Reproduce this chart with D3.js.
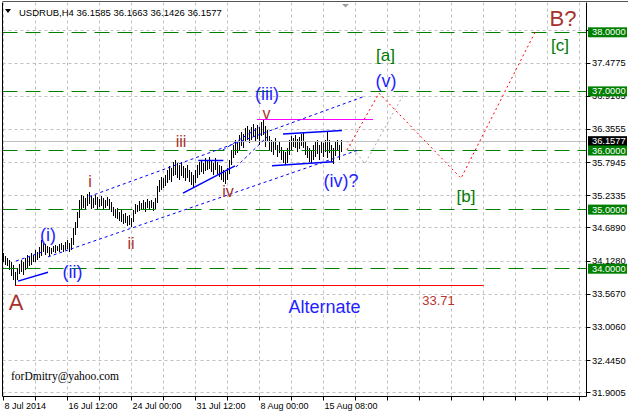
<!DOCTYPE html>
<html><head><meta charset="utf-8">
<script src="https://cdn.jsdelivr.net/npm/d3@7"></script>
<style>body{margin:0;background:#fff}svg{display:block}</style>
</head><body>
<svg id="c" width="628" height="411"></svg>
<script>
// ---------- DATA ----------
const symbolTitle = "USDRUB,H4  36.1585 36.1663 36.1426 36.1577";
const highs = [
34.27,34.21,34.18,34.15,34.11,34.06,33.94,34.01,34.08,34.15,
34.11,34.18,34.23,34.20,34.27,34.23,34.32,34.28,34.37,34.49,
34.43,34.42,34.38,34.37,34.35,34.38,34.40,34.38,34.42,34.43,
34.40,34.45,34.49,34.43,34.52,34.69,34.79,34.96,35.16,35.25,
35.23,35.20,35.26,35.30,35.23,35.20,35.25,35.21,35.18,35.23,
35.20,35.16,35.21,35.18,35.13,35.04,35.01,35.03,34.96,34.99,
34.93,34.94,34.89,34.91,34.86,34.99,35.09,35.08,35.15,35.11,
35.16,35.13,35.18,35.15,35.16,35.13,35.20,35.40,35.50,35.55,
35.53,35.59,35.67,35.74,35.70,35.81,35.84,35.79,35.75,35.81,
35.74,35.70,35.75,35.67,35.64,35.59,35.67,35.75,35.81,35.84,
35.79,35.87,35.84,35.89,35.82,35.79,35.87,35.81,35.75,35.74,
35.67,35.64,35.70,35.84,36.01,36.09,36.18,36.14,36.26,36.31,
36.28,36.38,36.41,36.35,36.40,36.45,36.38,36.43,36.40,36.48,
36.53,36.41,36.35,36.25,36.18,36.14,36.21,36.09,36.16,36.06,
36.01,35.97,36.04,36.18,36.25,36.21,36.26,36.19,36.23,36.28,
36.30,36.14,36.08,36.04,36.01,36.09,36.14,36.18,36.09,36.16,
36.13,36.18,36.33,36.18,36.09,36.04,36.14,36.18,36.09,36.18,
36.1663];
const lows = [
34.11,34.06,34.05,33.98,33.88,33.81,33.71,33.81,33.91,33.94,
33.89,33.98,34.01,34.05,34.06,34.11,34.11,34.15,34.18,34.21,
34.28,34.23,34.27,34.21,34.25,34.28,34.27,34.30,34.28,34.32,
34.28,34.32,34.33,34.28,34.32,34.40,34.57,34.69,34.86,34.99,
35.03,34.99,35.06,35.09,35.01,35.03,35.08,34.99,35.04,35.06,
35.01,35.03,35.06,34.99,34.96,34.89,34.86,34.84,34.81,34.79,
34.76,34.77,34.72,34.74,34.70,34.79,34.93,34.96,34.98,34.99,
35.01,34.96,35.03,34.99,35.03,34.98,35.01,35.11,35.30,35.33,
35.37,35.40,35.45,35.50,35.47,35.57,35.59,35.53,35.50,35.57,
35.53,35.48,35.53,35.47,35.42,35.38,35.45,35.53,35.59,35.64,
35.60,35.65,35.67,35.69,35.64,35.59,35.67,35.60,35.55,35.50,
35.47,35.43,35.50,35.60,35.75,35.87,35.92,35.96,36.01,36.08,
36.04,36.14,36.18,36.13,36.18,36.23,36.16,36.19,36.09,36.25,
36.26,36.06,36.14,36.01,35.97,35.92,36.01,35.89,35.96,35.84,
35.79,35.76,35.79,35.92,36.01,36.06,36.04,35.97,36.03,36.08,
36.04,35.92,35.87,35.81,35.79,35.84,35.89,35.94,35.84,35.96,
35.89,35.97,35.87,35.96,35.81,35.78,35.91,36.01,35.84,35.97,
36.1426];
const lastClose = 36.1577;
const timeTickBars = [0,32,64,96,128,160];
const timeTickLabels = ["8 Jul 2014","16 Jul 12:00","24 Jul 00:00","31 Jul 12:00","8 Aug 00:00","15 Aug 08:00"];
const gridPrices = [38.0385,37.4775,36.9165,36.3555,35.7945,35.2335,34.6890,34.1280,33.5670,33.0060,32.4450,31.9005];
const priceTickLabels = [37.4775,36.9165,36.3555,35.7945,35.2335,34.6890,34.1280,33.5670,33.0060,32.4450,31.9005];
const levelPrices = [38,37,36,35,34];
const lowLevel = {price:33.71, from:6, to:240};
const highLevel = {price:36.53, from:126.75, to:184.75};
// trend / channel lines as [bar, price] pairs
const dottedBlue = [
  [[6.25,34.13],[19.25,34.28]],
  [[22.25,34.20],[176.75,36.00]],
  [[42.75,35.22],[180.75,36.92]],
  [[109.75,36.01],[128.25,36.40]],
  [[116.25,35.72],[131.75,36.23]]
];
const solidBlue = [
  [[7.25,33.79],[22.25,33.94]],
  [[89.75,35.28],[115.75,35.74]],
  [[97.4,35.83],[109.9,35.83]],
  [[139.75,36.28],[169.25,36.34]],
  [[134.25,35.74],[164.75,35.81]]
];
const forecastMain = [[171.75,36.01],[187.75,36.97],[228.75,35.53],[265.75,38.0]];
const forecastAlt = [[171.6,36.16],[180.75,35.78],[199.9,36.94]];
const brownLabels = [
  {t:"A", b:6.25, p:33.42, s:22},
  {t:"B?", b:279.75, p:38.24, s:22},
  {t:"i", b:43.25, p:35.47, s:16},
  {t:"ii", b:63.75, p:34.43, s:16},
  {t:"iii", b:88.75, p:36.16, s:16},
  {t:"iv", b:112.25, p:35.30, s:16},
  {t:"v", b:131.5, p:36.62, s:16}
];
const blueLabels = [
  {t:"(i)", b:22.25, p:34.57},
  {t:"(ii)", b:34.5, p:33.94},
  {t:"(iii)", b:131.75, p:36.96},
  {t:"(iv)?", b:168.75, p:35.48},
  {t:"(v)", b:191.25, p:37.18},
  {t:"Alternate", b:160.5, p:33.35}
];
const greenLabels = [
  {t:"[a]", b:191, p:37.60},
  {t:"[b]", b:231.25, p:35.23},
  {t:"[c]", b:278.25, p:37.77}
];
const lowLevelLabel = {t:"33.71", b:217.5, p:33.47};
const credit = "forDmitry@yahoo.com";

// ---------- SCALES ----------
const svg = d3.select("#c");
const PL=2.5, PR=586.5, PT=2.5, PB=396.5;
const x = d3.scaleLinear().domain([0,291.5]).range([3.5,586.5]);
const y = d3.scaleLinear().domain([34,38]).range([268.7,32.3]);
const cr = v => Math.round(v - 0.5) + 0.5;
const FONT = "Liberation Sans, Arial, sans-serif";

svg.append("rect").attr("width",628).attr("height",411).attr("fill","#fff");
svg.append("defs").append("clipPath").attr("id","pc").append("rect")
  .attr("x",PL).attr("y",PT).attr("width",PR-PL).attr("height",PB-PT);
const g = svg.append("g").attr("clip-path","url(#pc)");

// grid
const gridBars = d3.range(0, 292, 16);
g.selectAll(".vg").data(gridBars).join("line")
  .attr("x1",d=>x(d)).attr("x2",d=>x(d)).attr("y1",PT).attr("y2",PB)
  .attr("stroke","#c0c0c0").attr("stroke-dasharray","3,3");
g.selectAll(".hg").data(gridPrices).join("line")
  .attr("x1",PL).attr("x2",PR).attr("y1",d=>cr(y(d))).attr("y2",d=>cr(y(d)))
  .attr("stroke","#c0c0c0").attr("stroke-dasharray","3,3");

// bars
g.append("g").selectAll("line").data(highs).join("line")
  .attr("x1",(d,i)=>x(i)).attr("x2",(d,i)=>x(i))
  .attr("y1",d=>Math.round(y(d))).attr("y2",(d,i)=>Math.max(Math.round(y(lows[i])),Math.round(y(d))+1))
  .attr("stroke","#000").attr("shape-rendering","crispEdges");

// current price line
g.append("line").attr("x1",PL).attr("x2",PR).attr("y1",cr(y(lastClose))).attr("y2",cr(y(lastClose)))
  .attr("stroke","#c0c0c0");

// green levels
g.selectAll(".lv").data(levelPrices).join("line")
  .attr("x1",PL).attr("x2",PR).attr("y1",d=>cr(y(d))).attr("y2",d=>cr(y(d)))
  .attr("stroke","#008000").attr("stroke-dasharray","15,8");

// red low level, magenta high level
g.append("line").attr("x1",x(lowLevel.from)).attr("x2",x(lowLevel.to))
  .attr("y1",cr(y(lowLevel.price))).attr("y2",cr(y(lowLevel.price))).attr("stroke","#ff0000");
g.append("line").attr("x1",x(highLevel.from)).attr("x2",x(highLevel.to))
  .attr("y1",cr(y(highLevel.price))).attr("y2",cr(y(highLevel.price))).attr("stroke","#ff00ff").attr("stroke-width",1.2);

const lineGen = d3.line().x(d=>x(d[0])).y(d=>y(d[1]));
g.selectAll(".db").data(dottedBlue).join("path").attr("d",lineGen)
  .attr("fill","none").attr("stroke","#0000ff").attr("stroke-dasharray","3,3");
g.selectAll(".sb").data(solidBlue).join("path").attr("d",lineGen)
  .attr("fill","none").attr("stroke","#0000ff").attr("stroke-width",1.5);
g.append("path").attr("d",lineGen(forecastAlt)).attr("fill","none")
  .attr("stroke","#a8a8a8").attr("stroke-dasharray","2,3");
g.append("path").attr("d",lineGen(forecastMain)).attr("fill","none")
  .attr("stroke","#ff0000").attr("stroke-dasharray","2,3");

// labels
g.selectAll(".bl").data(brownLabels).join("text")
  .attr("x",d=>x(d.b)).attr("y",d=>y(d.p)).attr("text-anchor","middle").attr("dominant-baseline","central")
  .attr("font-family",FONT).attr("font-size",d=>d.s).attr("fill","#a8322d").text(d=>d.t);
g.selectAll(".bll").data(blueLabels).join("text")
  .attr("x",d=>x(d.b)).attr("y",d=>y(d.p)).attr("text-anchor","middle").attr("dominant-baseline","central")
  .attr("font-family",FONT).attr("font-size",18).attr("fill","#1f1fff").text(d=>d.t);
g.selectAll(".gl").data(greenLabels).join("text")
  .attr("x",d=>x(d.b)).attr("y",d=>y(d.p)).attr("text-anchor","middle").attr("dominant-baseline","central")
  .attr("font-family",FONT).attr("font-size",17).attr("fill","#007a00").text(d=>d.t);
g.append("text").attr("x",x(lowLevelLabel.b)).attr("y",y(lowLevelLabel.p)).attr("text-anchor","middle")
  .attr("dominant-baseline","central").attr("font-family",FONT).attr("font-size",13).attr("fill","#b8342f").text(lowLevelLabel.t);

// shift marker
g.append("path").attr("d",`M${x(171)-3.5},4 L${x(171)+3.5},4 L${x(171)},7.5 Z`).attr("fill","#a0a0a0");

// title and credit
svg.append("path").attr("d","M5,9 L11,9 L8,13 Z").attr("fill","#000");
svg.append("text").attr("x",19).attr("y",12).attr("dominant-baseline","central")
  .attr("font-family",FONT).attr("font-size",9.5).attr("fill","#000").text(symbolTitle);
svg.append("text").attr("x",11).attr("y",380)
  .attr("font-family","Liberation Serif, Times New Roman, serif").attr("font-size",11.5).attr("fill","#000").text(credit);

// frame
svg.append("path").attr("d",`M${PL},${PT} V${PB} H${PR} V${PT}`).attr("fill","none").attr("stroke","#000");
svg.append("line").attr("x1",PL).attr("x2",628).attr("y1",1.5).attr("y2",1.5).attr("stroke","#555");

// bottom axis
svg.selectAll(".bt").data(gridBars).join("line")
  .attr("x1",d=>x(d)).attr("x2",d=>x(d)).attr("y1",PB).attr("y2",PB+4).attr("stroke","#000");
svg.selectAll(".btl").data(timeTickBars).join("text")
  .attr("x",d=>x(d)+1).attr("y",406).attr("dominant-baseline","central")
  .attr("font-family",FONT).attr("font-size",9).attr("fill","#000").text((d,i)=>timeTickLabels[i]);

// right axis
svg.selectAll(".rt").data(gridPrices).join("line")
  .attr("x1",PR).attr("x2",PR+4).attr("y1",d=>cr(y(d))).attr("y2",d=>cr(y(d))).attr("stroke","#000");
svg.selectAll(".rtl").data(priceTickLabels).join("text")
  .attr("x",592).attr("y",d=>y(d)).attr("dominant-baseline","central")
  .attr("font-family",FONT).attr("font-size",9.3).attr("fill","#000").text(d=>d3.format(".4f")(d));

// current price box
svg.append("rect").attr("x",588).attr("y",y(lastClose)-5).attr("width",39).attr("height",10).attr("fill","#000");
svg.append("text").attr("x",592).attr("y",y(lastClose)).attr("dominant-baseline","central")
  .attr("font-family",FONT).attr("font-size",9.3).attr("fill","#fff").text(d3.format(".4f")(lastClose));
// level boxes
const lb = svg.selectAll(".lb").data(levelPrices).join("g");
lb.append("rect").attr("x",588).attr("y",d=>y(d)-5).attr("width",39).attr("height",10).attr("fill","#008000");
lb.append("text").attr("x",592).attr("y",d=>y(d)).attr("dominant-baseline","central")
  .attr("font-family",FONT).attr("font-size",9.3).attr("fill","#fff").text(d=>d3.format(".4f")(d));
</script>
</body></html>
